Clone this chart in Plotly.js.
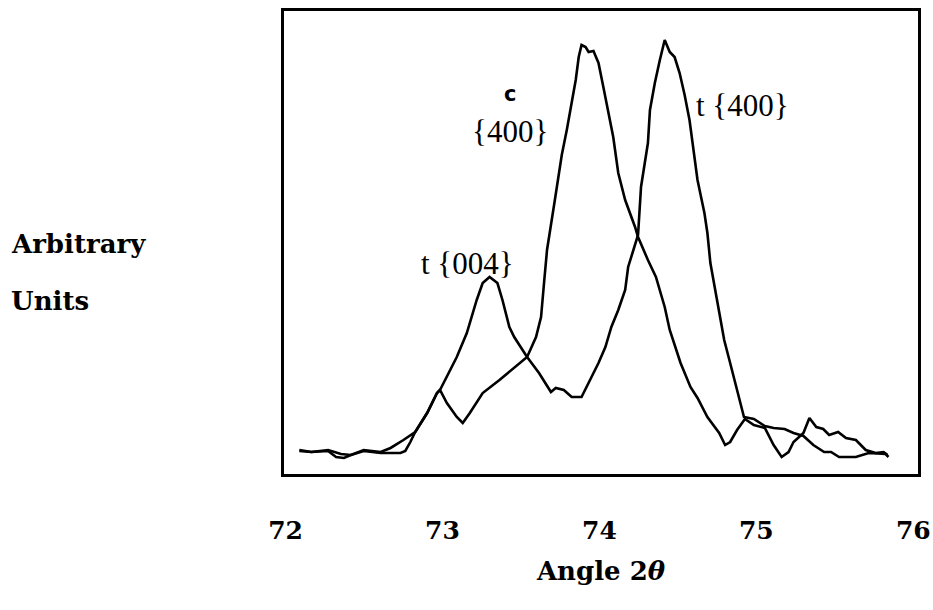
<!DOCTYPE html>
<html>
<head>
<meta charset="utf-8">
<script src="https://cdn.plot.ly/plotly-3.0.1.min.js"></script>
<style>html,body{margin:0;padding:0;background:#fff;}#chart{width:933px;height:610px;}</style>
</head>
<body>
<div id="chart"></div>
<script>
// Angle 2θ (degrees) and intensity (arbitrary units) for the tetragonal trace
const angleT = [72.088,72.164,72.271,72.353,72.416,72.498,72.606,72.669,72.751,72.826,72.902,72.965,72.984,73.091,73.155,73.218,73.256,73.300,73.350,73.382,73.426,73.457,73.539,73.615,73.691,73.722,73.773,73.823,73.886,73.931,73.994,74.038,74.076,74.120,74.164,74.183,74.215,74.246,74.265,74.309,74.322,74.353,74.385,74.416,74.448,74.479,74.511,74.543,74.574,74.606,74.625,74.669,74.688,74.707,74.751,74.795,74.833,74.877,74.921,74.984,75.054,75.110,75.180,75.237,75.300,75.363,75.432,75.476,75.527,75.634,75.716,75.823,75.842];
const intensityT = [5.18,4.75,5.18,4.32,4.10,5.18,4.75,5.62,7.34,9.07,13.17,17.49,18.14,25.27,30.45,37.58,41.25,42.55,41.25,37.58,31.75,29.59,25.27,21.81,17.71,18.57,18.14,16.63,16.63,19.65,23.97,27.43,31.75,35.42,39.74,44.71,48.38,51.62,61.99,71.49,78.62,84.45,89.42,93.74,91.14,90.06,86.61,81.86,76.46,68.47,63.50,56.37,52.05,45.57,36.93,28.94,23.97,18.14,12.31,11.88,10.37,9.94,9.72,8.86,8.21,6.26,4.75,4.75,3.67,3.67,4.54,4.32,3.67];

// Angle 2θ (degrees) and intensity (arbitrary units) for the cubic trace
const angleC = [72.088,72.164,72.271,72.322,72.372,72.416,72.498,72.606,72.732,72.763,72.795,72.826,72.902,72.965,72.984,73.028,73.091,73.129,73.174,73.256,73.363,73.489,73.539,73.596,73.628,73.647,73.666,73.716,73.760,73.792,73.823,73.849,73.868,73.886,73.912,73.931,73.962,73.994,74.025,74.057,74.088,74.120,74.164,74.227,74.246,74.309,74.360,74.416,74.448,74.517,74.580,74.625,74.688,74.763,74.801,74.833,74.877,74.927,74.984,75.054,75.110,75.161,75.205,75.237,75.300,75.338,75.382,75.426,75.464,75.521,75.571,75.634,75.697,75.760,75.811,75.836];
const intensityC = [4.97,4.75,4.97,3.67,3.46,4.10,4.97,4.54,4.54,4.97,6.91,9.07,13.17,17.49,18.14,15.33,12.31,11.02,13.17,17.49,20.30,23.97,25.27,29.59,33.91,41.25,48.38,59.18,68.90,74.30,80.13,85.10,90.06,92.66,92.22,91.14,91.36,88.77,83.59,77.97,72.79,65.01,59.18,53.35,51.19,46.22,42.55,36.07,31.10,23.97,18.79,16.41,12.31,8.86,6.26,6.91,9.50,11.88,10.58,9.94,6.26,3.67,4.75,6.91,8.86,12.10,10.15,9.72,8.42,9.07,7.78,7.34,5.18,4.54,4.75,4.10];

const tickValues = [72, 73, 74, 75, 76];
const tickLabels = ["72", "73", "74", "75", "76"];

const serifBold = "'DejaVu Serif', serif";
const lineStyle = {color: '#000', width: 2.6};

const data = [
  {x: angleT, y: intensityT, type: 'scatter', mode: 'lines', line: lineStyle, name: 't', hoverinfo: 'skip'},
  {x: angleC, y: intensityC, type: 'scatter', mode: 'lines', line: lineStyle, name: 'c', hoverinfo: 'skip'}
];

const layout = {
  width: 933, height: 610,
  margin: {l: 284, r: 15, t: 11, b: 136, pad: 0},
  paper_bgcolor: '#fff', plot_bgcolor: '#fff',
  showlegend: false,
  xaxis: {
    range: [71.99, 76.03], showgrid: false, zeroline: false,
    showline: true, mirror: true, linecolor: '#000', linewidth: 3,
    ticks: '', tickvals: tickValues, ticktext: tickLabels,
    ticklabelstandoff: 32, ticklabeloverflow: 'allow',
    tickfont: {family: serifBold, size: 25, color: '#000', weight: 'bold'},
    title: {text: 'Angle 2<i>θ</i>', standoff: 18, font: {family: serifBold, size: 26, color: '#000', weight: 'bold'}}
  },
  yaxis: {
    range: [0, 100], showgrid: false, zeroline: false,
    showline: true, mirror: true, linecolor: '#000', linewidth: 3,
    ticks: '', showticklabels: false
  },
  annotations: [
    {xref: 'paper', yref: 'paper', x: -0.433, y: 0.497, xanchor: 'left', yanchor: 'middle', showarrow: false,
     text: 'Arbitrary', font: {family: serifBold, size: 26, color: '#000', weight: 'bold'}},
    {xref: 'paper', yref: 'paper', x: -0.433, y: 0.374, xanchor: 'left', yanchor: 'middle', showarrow: false,
     text: 'Units', font: {family: serifBold, size: 26, color: '#000', weight: 'bold'}},
    {xref: 'x', yref: 'y', x: 73.43, y: 82.0, showarrow: false, text: 'c',
     font: {family: "'DejaVu Sans', sans-serif", size: 21, color: '#000', weight: 'bold'}},
    {xref: 'x', yref: 'y', x: 73.43, y: 74.0, showarrow: false, text: '{400}',
     font: {family: "'Liberation Serif', serif", size: 31, color: '#000'}},
    {xref: 'x', yref: 'y', x: 74.6, y: 79.5, xanchor: 'left', showarrow: false, text: 't {400}',
     font: {family: "'Liberation Serif', serif", size: 31, color: '#000'}},
    {xref: 'x', yref: 'y', x: 73.47, y: 45.5, xanchor: 'right', showarrow: false, text: 't {004}',
     font: {family: "'Liberation Serif', serif", size: 31, color: '#000'}}
  ]
};

Plotly.newPlot('chart', data, layout, {staticPlot: true, displayModeBar: false});
</script>
</body>
</html>
